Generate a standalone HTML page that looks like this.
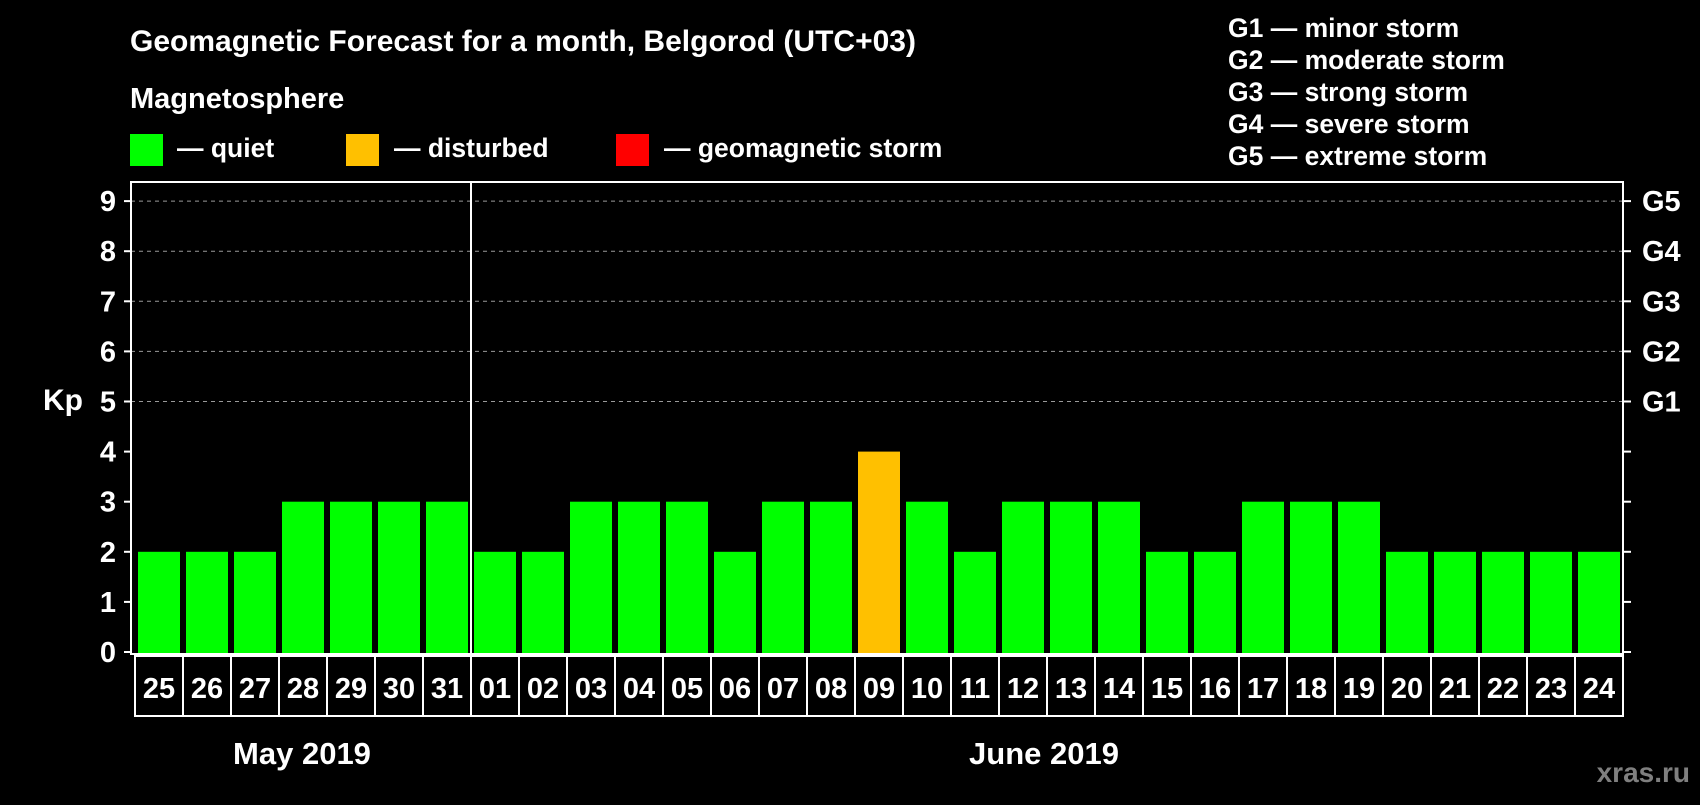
<!DOCTYPE html>
<html><head><meta charset="utf-8"><style>
body{margin:0;background:#000;width:1700px;height:800px;overflow:hidden}
svg text{font-family:"Liberation Sans",Arial,sans-serif;font-weight:bold;fill:#fff}
</style></head><body>
<svg id="c" width="1700" height="800">
<text x="130" y="51" font-size="30">Geomagnetic Forecast for a month, Belgorod (UTC+03)</text>
<text x="130" y="108" font-size="29">Magnetosphere</text>
<g><rect x="130" y="134" width="33" height="32" fill="#00ff00"/><text x="177" y="157" font-size="26.5">— quiet</text></g>
<g><rect x="346" y="134" width="33" height="32" fill="#ffc000"/><text x="394" y="157" font-size="26.5">— disturbed</text></g>
<g><rect x="616" y="134" width="33" height="32" fill="#ff0000"/><text x="664" y="157" font-size="26.5">— geomagnetic storm</text></g>
<g font-size="26.5">
<text x="1228" y="37">G1 — minor storm</text>
<text x="1228" y="69">G2 — moderate storm</text>
<text x="1228" y="101">G3 — strong storm</text>
<text x="1228" y="133">G4 — severe storm</text>
<text x="1228" y="165">G5 — extreme storm</text>
</g>
<text x="63" y="410" font-size="30" text-anchor="middle">Kp</text>
<text x="302" y="764" font-size="31" text-anchor="middle">May 2019</text>
<text x="1044" y="764" font-size="31" text-anchor="middle">June 2019</text>
<text x="1690" y="782" font-size="28" text-anchor="end" style="fill:#7f7f7f">xras.ru</text>
<g id="g"></g>
</svg>
<script>
const days=["25","26","27","28","29","30","31","01","02","03","04","05","06","07","08","09","10","11","12","13","14","15","16","17","18","19","20","21","22","23","24"];
const kp=[2,2,2,3,3,3,3,2,2,3,3,3,2,3,3,4,3,2,3,3,3,2,2,3,3,3,2,2,2,2,2];
const yTicks=[0,1,2,3,4,5,6,7,8,9];
const gLabels=["","","","","","G1","G2","G3","G4","G5"];
const NS="http://www.w3.org/2000/svg",g=document.getElementById('g');
const L=131,R=1623,T=182,B=654,y0=652,unit=50.1,x0=138,pitch=48,bw=42;
const y=v=>y0-v*unit, x=i=>x0+i*pitch;
function mk(t,a){const e=document.createElementNS(NS,t);for(const k in a)e.setAttribute(k,a[k]);g.appendChild(e);return e;}
yTicks.forEach((v,i)=>{
 if(v>=5){const l=mk('line',{x1:L,x2:R,y1:y(v),y2:y(v),stroke:'#999','stroke-dasharray':'4,4','stroke-width':1});
 
 }
 const tl=mk('line',{x1:L-7,x2:L,y1:y(v),y2:y(v),stroke:'#fff','stroke-width':2});
 
 
 const tr=mk('line',{x1:R,x2:R+8,y1:y(v),y2:y(v),stroke:'#fff','stroke-width':2});
 
 
 const t=mk('text',{x:116,y:y(v)+10,'font-size':29,'text-anchor':'end'});t.textContent=v;
 
 
 if(gLabels[i]){const gt=mk('text',{x:1642,y:y(v)+10,'font-size':29});gt.textContent=gLabels[i];
 
 }
});
kp.forEach((v,i)=>{
 const r=mk('rect',{x:x(i),y:y(v),width:bw,height:B-y(v),fill:v>=5?'#ff0000':v>=4?'#ffc000':'#00ff00'});
 
 
 const bx=mk('rect',{x:x(i)-3,y:656,width:pitch,height:60,fill:'none',stroke:'#fff','stroke-width':2});
 
 
 const t=mk('text',{x:x(i)+bw/2,y:698,'font-size':29,'text-anchor':'middle'});t.textContent=days[i];
 
 
});
const fr=mk('rect',{x:L,y:T,width:R-L,height:B-T,fill:'none',stroke:'#fff','stroke-width':2});


const sepX=x(days.indexOf("01"))-3;
const sp=mk('line',{x1:sepX,x2:sepX,y1:T,y2:B,stroke:'#fff','stroke-width':2});


</script>
</body></html>
